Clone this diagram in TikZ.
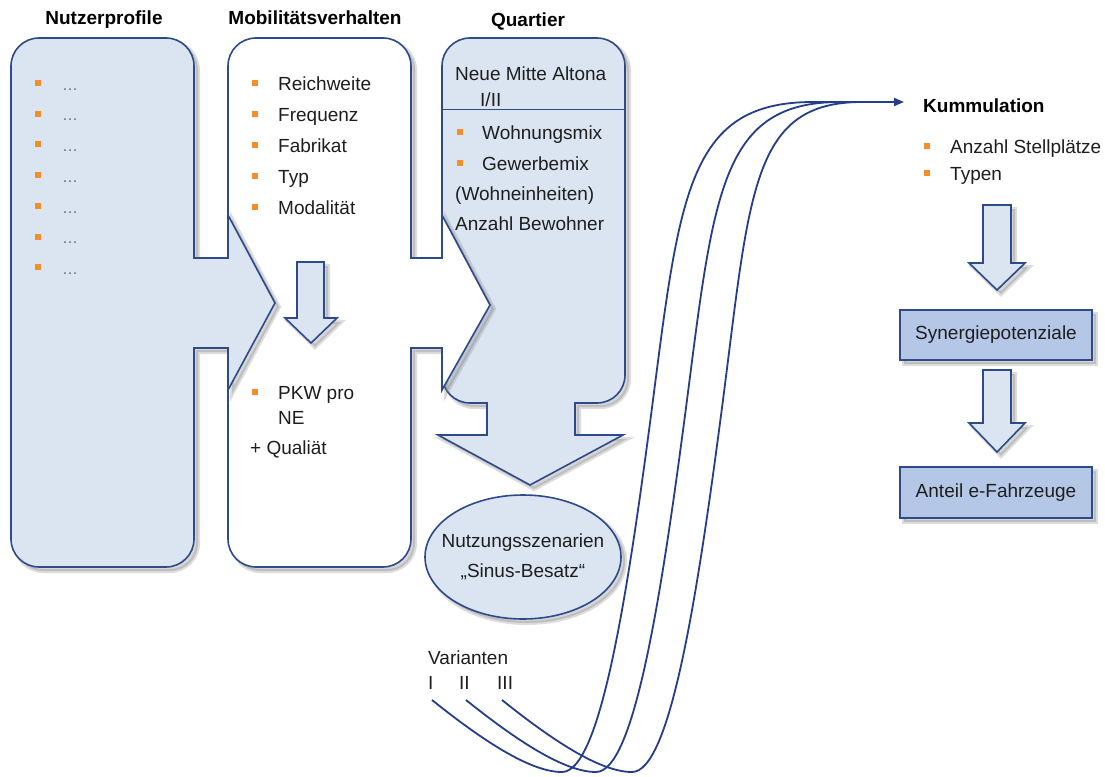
\documentclass[tikz,border=0pt]{standalone}
\usepackage{fontspec}
\setmainfont{Liberation Sans}
\usetikzlibrary{shapes.geometric,arrows.meta}
\definecolor{ln}{RGB}{45,75,138}
\definecolor{lb}{RGB}{219,229,241}
\definecolor{bx}{RGB}{180,199,231}
\definecolor{org}{RGB}{247,140,40}
\definecolor{tx}{RGB}{30,30,30}
\definecolor{cv}{RGB}{36,62,140}
\definecolor{dotc}{RGB}{110,110,110}
\definecolor{shc}{RGB}{120,120,120}
\newcommand{\fz}{\fontsize{19}{23}\selectfont}
\begin{document}
\begin{tikzpicture}[x=1pt,y=-1pt,
  sh/.style={preaction={draw=shc, line width=4pt, draw opacity=0.25, fill=shc, fill opacity=0.3, transform canvas={shift={(4pt,-4pt)}}}},
  shp/.style={sh, draw=ln, line width=1.6pt, line join=miter},
  t/.style={font=\fz, text=tx, inner sep=0pt, anchor=base west},
  ttl/.style={font=\fz\bfseries, text=black, inner sep=0pt, anchor=base},
  bul/.style={rectangle, fill=org, draw=none, minimum size=6pt, inner sep=0pt},
  dts/.style={font=\fontsize{16}{18}\selectfont, text=dotc, inner sep=0pt, anchor=base west},
  bxs/.style={sh, rectangle, draw=ln, line width=1.2pt, fill=bx, font=\fz, text=tx,
     minimum width=192pt, minimum height=50pt, inner sep=0pt},
  cvs/.style={draw=cv, line width=1.8pt}]
\useasboundingbox (0,0) rectangle (1105,776);
\fill[white] (0,0) rectangle (1105,776);

% Panel 3: Quartier
\path[shp, fill=lb]
 (442,66) .. controls (442,50.5) and (454.5,38) .. (470,38)
 -- (597,38) .. controls (612.5,38) and (625,50.5) .. (625,66)
 -- (625,375) .. controls (625,390.5) and (612.5,403) .. (597,403)
 -- (575,403) -- (575,435) -- (623,435) -- (530,485) -- (438,435) -- (487,435) -- (487,403)
 -- (470,403) .. controls (454.5,403) and (442,390.5) .. (442,375) -- cycle;
\draw[ln, line width=1pt] (442,109) -- (625,109);

% Panel 2: Mobilitaetsverhalten
\path[shp, fill=white]
 (228,66) .. controls (228,50.5) and (240.5,38) .. (256,38)
 -- (383,38) .. controls (398.5,38) and (411,50.5) .. (411,66)
 -- (411,258) -- (442,258) -- (442,215) -- (490,305) -- (442,390) -- (442,348) -- (411,348)
 -- (411,539) .. controls (411,554.5) and (398.5,567) .. (383,567)
 -- (256,567) .. controls (240.5,567) and (228,554.5) .. (228,539) -- cycle;

% Panel 1: Nutzerprofile
\path[shp, fill=lb]
 (11,66) .. controls (11,50.5) and (23.5,38) .. (39,38)
 -- (166,38) .. controls (181.5,38) and (194,50.5) .. (194,66)
 -- (194,258) -- (228,258) -- (228,215) -- (275,303) -- (228,390) -- (228,348) -- (194,348)
 -- (194,539) .. controls (194,554.5) and (181.5,567) .. (166,567)
 -- (39,567) .. controls (23.5,567) and (11,554.5) .. (11,539) -- cycle;

% inner arrow of panel 2
\path[shp, fill=lb] (297,262) -- (324,262) -- (324,318) -- (337,318) -- (311,343) -- (285,318) -- (297,318) -- cycle;

% titles
\node[ttl] (tnp) at (104,25) {Nutzerprofile};
\node[ttl] (tmv) at (315,25) {Mobilitätsverhalten};
\node[ttl] (tq) at (528,27) {Quartier};

% panel 1 items
\foreach \i/\yy in {1/83,2/113.5,3/144,4/175,5/206,6/236.5,7/267}{
  \node[bul] (pb\i) at (38,\yy) {};
  \node[dts] (pd\i) at (62,\yy+7) {…};
}

% panel 2 items
\foreach \i/\yy/\w in {1/83/Reichweite,2/114/Frequenz,3/145/Fabrikat,4/176/Typ,5/207/Modalität}{
  \node[bul] (mb\i) at (255,\yy) {};
  \node[t] (mt\i) at (278,\yy+7) {\w};
}
\node[bul] (mb6) at (255,392) {};
\node[t] (mt6) at (278,399) {PKW pro};
\node[t] (mt7) at (278,424) {NE};
\node[t] (mt8) at (250,454) {+ Qualiät};

% panel 3 items
\node[t] (q1) at (455,80) {Neue Mitte Altona};
\node[t] (q2) at (480,106) {I/II};
\node[bul] (qb1) at (460,132) {};
\node[t] (q3) at (482,139) {Wohnungsmix};
\node[bul] (qb2) at (460,163) {};
\node[t] (q4) at (482,170) {Gewerbemix};
\node[t] (q5) at (455,200) {(Wohneinheiten)};
\node[t] (q6) at (455,230) {Anzahl Bewohner};

% ellipse
\node[sh, ellipse, draw=ln, line width=1.6pt, fill=lb, minimum width=196pt, minimum height=124pt,
      inner xsep=-16pt, inner ysep=0pt, align=center, font=\fontsize{19}{30}\selectfont, text=tx]
      (nutz) at (523,557) {Nutzungsszenarien\\„Sinus-Besatz“};

% Varianten
\node[t] (var) at (428,664) {Varianten};
\node[t] (v1) at (428,689) {I};
\node[t] (v2) at (459,689) {II};
\node[t] (v3) at (497,689) {III};

% curves
\coordinate (s1) at (432,700);
\coordinate (s2) at (466,700);
\coordinate (s3) at (502,700);
\coordinate (j1) at (813,102);
\coordinate (j2) at (840,102);
\coordinate (j3) at (862,102);
\coordinate (tip) at (904,102);
\draw[cvs] (s1) .. controls (482,740) and (530,772) .. (562,772)
  .. controls (600,772) and (627,600) .. (653,400)
  .. controls (680,190) and (690,102) .. (j1);
\draw[cvs] (s2) .. controls (516,740) and (564,772) .. (596,772)
  .. controls (634,772) and (661,600) .. (687,400)
  .. controls (714,190) and (722,102) .. (j2);
\draw[cvs] (s3) .. controls (552,740) and (600,772) .. (632,772)
  .. controls (670,772) and (697,600) .. (723,400)
  .. controls (750,190) and (752,102) .. (j3);
\draw[cvs, -{Triangle[length=10pt,width=8pt]}] (j1) -- (tip);

% right column
\node[ttl, anchor=base west] (kum) at (923,112) {Kummulation};
\node[bul] (kb1) at (927,146) {};
\node[t] (k1) at (950,153) {Anzahl Stellplätze};
\node[bul] (kb2) at (927,173) {};
\node[t] (k2) at (950,180) {Typen};
\path[shp, fill=lb] (983,205) -- (1011,205) -- (1011,263) -- (1025,263) -- (997,290) -- (969,263) -- (983,263) -- cycle;
\node[bxs] (syn) at (996,335) {Synergiepotenziale};
\path[shp, fill=lb] (983,370) -- (1011,370) -- (1011,423) -- (1025,423) -- (997,452) -- (969,423) -- (983,423) -- cycle;
\node[bxs, minimum height=51pt] (ant) at (996,492.5) {Anteil e-Fahrzeuge};
\end{tikzpicture}
\end{document}
